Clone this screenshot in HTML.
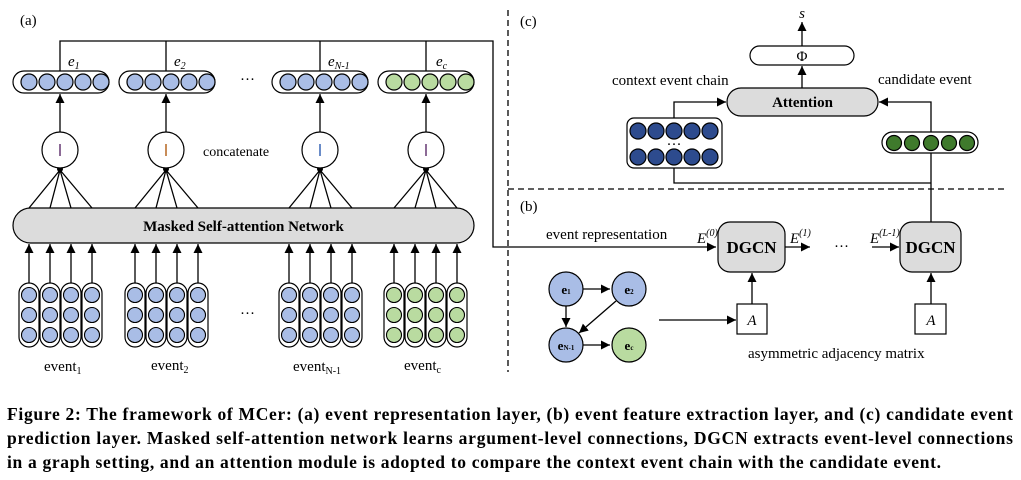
<!DOCTYPE html>
<html><head><meta charset="utf-8"><style>
body{margin:0;background:#fff}
svg{display:block}
text{font-family:"Liberation Serif",serif}
</style></head><body>
<svg width="1021" height="480" viewBox="0 0 1021 480" xmlns="http://www.w3.org/2000/svg">
<defs>
<marker id="a" viewBox="0 0 10 10" refX="10" refY="5" markerWidth="7" markerHeight="7" orient="auto-start-reverse"><path d="M0,0L10,5L0,10z" fill="#000"/></marker>
</defs>
<g stroke="#000" stroke-width="1.3" fill="none">
<polyline points="60,71 60,41 493,41 493,247 716,247" marker-end="url(#a)"/>
<line x1="166" y1="41" x2="166" y2="71"/><line x1="320" y1="41" x2="320" y2="71"/><line x1="426" y1="41" x2="426" y2="71"/>
<line x1="60" y1="132" x2="60" y2="94" marker-end="url(#a)"/>
<line x1="166" y1="132" x2="166" y2="94" marker-end="url(#a)"/>
<line x1="320" y1="132" x2="320" y2="94" marker-end="url(#a)"/>
<line x1="426" y1="132" x2="426" y2="94" marker-end="url(#a)"/>
<path d="M29,208L60,170M50,208L60,170M71,208L60,170M92,208L60,170"/>
<path d="M135,208L166,170M156,208L166,170M177,208L166,170M198,208L166,170"/>
<path d="M289,208L320,170M310,208L320,170M331,208L320,170M352,208L320,170"/>
<path d="M394,208L426,170M415,208L426,170M436,208L426,170M457,208L426,170"/>
<g marker-end="url(#a)">
<line x1="29" y1="283" x2="29" y2="244"/><line x1="50" y1="283" x2="50" y2="244"/><line x1="71" y1="283" x2="71" y2="244"/><line x1="92" y1="283" x2="92" y2="244"/>
<line x1="135" y1="283" x2="135" y2="244"/><line x1="156" y1="283" x2="156" y2="244"/><line x1="177" y1="283" x2="177" y2="244"/><line x1="198" y1="283" x2="198" y2="244"/>
<line x1="289" y1="283" x2="289" y2="244"/><line x1="310" y1="283" x2="310" y2="244"/><line x1="331" y1="283" x2="331" y2="244"/><line x1="352" y1="283" x2="352" y2="244"/>
<line x1="394" y1="283" x2="394" y2="244"/><line x1="415" y1="283" x2="415" y2="244"/><line x1="436" y1="283" x2="436" y2="244"/><line x1="457" y1="283" x2="457" y2="244"/>
</g>
</g>
<g fill="#000"><circle cx="60" cy="169" r="3"/><circle cx="166" cy="169" r="3"/><circle cx="320" cy="169" r="3"/><circle cx="426" cy="169" r="3"/></g>
<g stroke="#000" stroke-width="1.2">
<rect x="13" y="71" width="96" height="22" rx="11" fill="#fff"/>
<rect x="119" y="71" width="96" height="22" rx="11" fill="#fff"/>
<rect x="272" y="71" width="96" height="22" rx="11" fill="#fff"/>
<rect x="378" y="71" width="96" height="22" rx="11" fill="#fff"/>
<g fill="#a9bde6">
<circle cx="29" cy="82" r="8"/><circle cx="47" cy="82" r="8"/><circle cx="65" cy="82" r="8"/><circle cx="83" cy="82" r="8"/><circle cx="101" cy="82" r="8"/>
<circle cx="135" cy="82" r="8"/><circle cx="153" cy="82" r="8"/><circle cx="171" cy="82" r="8"/><circle cx="189" cy="82" r="8"/><circle cx="207" cy="82" r="8"/>
<circle cx="288" cy="82" r="8"/><circle cx="306" cy="82" r="8"/><circle cx="324" cy="82" r="8"/><circle cx="342" cy="82" r="8"/><circle cx="360" cy="82" r="8"/>
</g>
<g fill="#b9dba0">
<circle cx="394" cy="82" r="8"/><circle cx="412" cy="82" r="8"/><circle cx="430" cy="82" r="8"/><circle cx="448" cy="82" r="8"/><circle cx="466" cy="82" r="8"/>
</g>
<g fill="#fff"><circle cx="60" cy="150" r="18"/><circle cx="166" cy="150" r="18"/><circle cx="320" cy="150" r="18"/><circle cx="426" cy="150" r="18"/></g>
<rect x="13" y="208" width="461" height="35" rx="17.5" fill="#dcdcdc"/>
<g fill="#fff">
<rect x="19" y="283" width="20" height="64" rx="10"/><rect x="40" y="283" width="20" height="64" rx="10"/><rect x="61" y="283" width="20" height="64" rx="10"/><rect x="82" y="283" width="20" height="64" rx="10"/>
<rect x="125" y="283" width="20" height="64" rx="10"/><rect x="146" y="283" width="20" height="64" rx="10"/><rect x="167" y="283" width="20" height="64" rx="10"/><rect x="188" y="283" width="20" height="64" rx="10"/>
<rect x="279" y="283" width="20" height="64" rx="10"/><rect x="300" y="283" width="20" height="64" rx="10"/><rect x="321" y="283" width="20" height="64" rx="10"/><rect x="342" y="283" width="20" height="64" rx="10"/>
<rect x="384" y="283" width="20" height="64" rx="10"/><rect x="405" y="283" width="20" height="64" rx="10"/><rect x="426" y="283" width="20" height="64" rx="10"/><rect x="447" y="283" width="20" height="64" rx="10"/>
</g>
</g>
<g stroke="#000" stroke-width="1.1" fill="#a9bde6">
<g id="c1"><circle cx="29" cy="295" r="7.5"/><circle cx="29" cy="315" r="7.5"/><circle cx="29" cy="335" r="7.5"/></g>
<use href="#c1" x="21"/><use href="#c1" x="42"/><use href="#c1" x="63"/>
<use href="#c1" x="106"/><use href="#c1" x="127"/><use href="#c1" x="148"/><use href="#c1" x="169"/>
<use href="#c1" x="260"/><use href="#c1" x="281"/><use href="#c1" x="302"/><use href="#c1" x="323"/>
</g>
<g stroke="#000" stroke-width="1.1" fill="#b9dba0">
<g id="c2"><circle cx="394" cy="295" r="7.5"/><circle cx="394" cy="315" r="7.5"/><circle cx="394" cy="335" r="7.5"/></g>
<use href="#c2" x="21"/><use href="#c2" x="42"/><use href="#c2" x="63"/>
</g>
<g stroke-width="1.4"><line x1="60" y1="144" x2="60" y2="156" stroke="#5a2a6a"/><line x1="166" y1="144" x2="166" y2="156" stroke="#b05a10"/><line x1="320" y1="144" x2="320" y2="156" stroke="#2a5ab0"/><line x1="426" y1="144" x2="426" y2="156" stroke="#5a2a6a"/></g>
<g font-size="15">
<text x="20" y="25">(a)</text>
<text x="68" y="66" font-style="italic">e<tspan font-size="10" dy="3">1</tspan></text>
<text x="174" y="66" font-style="italic">e<tspan font-size="10" dy="3">2</tspan></text>
<text x="328" y="66" font-style="italic">e<tspan font-size="10" dy="3">N-1</tspan></text>
<text x="436" y="66" font-style="italic">e<tspan font-size="10" dy="3">c</tspan></text>
<text x="240" y="84">···</text>
<text x="240" y="318">···</text>
<text x="203" y="156" font-family="Liberation Sans,sans-serif" font-size="14">concatenate</text>
<text x="243.5" y="231" text-anchor="middle" font-weight="bold">Masked Self-attention Network</text>
<text x="44" y="371">event<tspan font-size="10" dy="3">1</tspan></text>
<text x="151" y="370">event<tspan font-size="10" dy="3">2</tspan></text>
<text x="293" y="371">event<tspan font-size="10" dy="3">N-1</tspan></text>
<text x="404" y="370">event<tspan font-size="10" dy="3">c</tspan></text>
</g>
<g stroke="#000" stroke-width="1.3" fill="none">
<line x1="508" y1="10" x2="508" y2="372" stroke-dasharray="6,4"/>
<line x1="508" y1="189" x2="1005" y2="189" stroke-dasharray="6,4"/>
<line x1="802" y1="46" x2="802" y2="22" marker-end="url(#a)"/>
<line x1="802" y1="88" x2="802" y2="66" marker-end="url(#a)"/>
<polyline points="674,118 674,102 726,102" marker-end="url(#a)"/>
<polyline points="931,132 931,102 879,102" marker-end="url(#a)"/>
<polyline points="674,168 674,183 931,183"/>
<line x1="931" y1="153" x2="931" y2="222"/>
<line x1="785" y1="247" x2="810" y2="247" marker-end="url(#a)"/>
<line x1="872" y1="247" x2="899" y2="247" marker-end="url(#a)"/>
<line x1="752" y1="304" x2="752" y2="273" marker-end="url(#a)"/>
<line x1="931" y1="304" x2="931" y2="273" marker-end="url(#a)"/>
<line x1="659" y1="320" x2="736" y2="320" marker-end="url(#a)"/>
<line x1="583" y1="289" x2="610" y2="289" marker-end="url(#a)"/>
<line x1="566" y1="306" x2="566" y2="327" marker-end="url(#a)"/>
<line x1="616" y1="301" x2="579" y2="333" marker-end="url(#a)"/>
<line x1="583" y1="345" x2="610" y2="345" marker-end="url(#a)"/>
</g>
<g stroke="#000" stroke-width="1.2">
<rect x="750" y="46" width="104" height="19" rx="9.5" fill="#fff"/>
<rect x="727" y="88" width="151" height="28" rx="14" fill="#dcdcdc"/>
<rect x="627" y="118" width="95" height="50" rx="7" fill="#fff"/>
<rect x="882" y="132" width="96" height="21" rx="10.5" fill="#fff"/>
<rect x="718" y="222" width="67" height="50" rx="12" fill="#dcdcdc"/>
<rect x="900" y="222" width="61" height="50" rx="12" fill="#dcdcdc"/>
<rect x="737" y="304" width="30" height="30" fill="#fff"/>
<rect x="915" y="304" width="31" height="30" fill="#fff"/>
<g fill="#2d4b8e"><circle cx="638" cy="131" r="8"/><circle cx="656" cy="131" r="8"/><circle cx="674" cy="131" r="8"/><circle cx="692" cy="131" r="8"/><circle cx="710" cy="131" r="8"/>
<circle cx="638" cy="157" r="8"/><circle cx="656" cy="157" r="8"/><circle cx="674" cy="157" r="8"/><circle cx="692" cy="157" r="8"/><circle cx="710" cy="157" r="8"/></g>
<g fill="#3f7a2c"><circle cx="894" cy="143" r="7.5"/><circle cx="912" cy="143" r="7.5"/><circle cx="931" cy="143" r="7.5"/><circle cx="949" cy="143" r="7.5"/><circle cx="967" cy="143" r="7.5"/></g>
<g fill="#a9bde6"><circle cx="566" cy="289" r="17"/><circle cx="629" cy="289" r="17"/><circle cx="566" cy="345" r="17"/></g>
<circle cx="629" cy="345" r="17" fill="#b9dba0"/>
</g>
<g font-size="15">
<text x="520" y="26">(c)</text>
<text x="520" y="211">(b)</text>
<text x="802" y="18" text-anchor="middle" font-style="italic">s</text>
<text x="802" y="61" text-anchor="middle">Φ</text>
<text x="802.5" y="107" text-anchor="middle" font-weight="bold">Attention</text>
<text x="612" y="85">context event chain</text>
<text x="878" y="84">candidate event</text>
<text x="674" y="149" text-anchor="middle">···</text>
<text x="546" y="239">event representation</text>
<text x="697" y="243" font-style="italic">E<tspan font-size="10" dy="-7">(0)</tspan></text>
<text x="790" y="243" font-style="italic">E<tspan font-size="10" dy="-7">(1)</tspan></text>
<text x="870" y="243" font-style="italic">E<tspan font-size="10" dy="-7">(L-1)</tspan></text>
<text x="834" y="251">···</text>
<text x="751.5" y="253" text-anchor="middle" font-weight="bold" font-size="17">DGCN</text>
<text x="930.5" y="253" text-anchor="middle" font-weight="bold" font-size="17">DGCN</text>
<text x="752" y="325" text-anchor="middle" font-style="italic">A</text>
<text x="931" y="325" text-anchor="middle" font-style="italic">A</text>
<text x="748" y="358">asymmetric adjacency matrix</text>
<g font-weight="bold" font-size="13" text-anchor="middle"><text x="566" y="294">e<tspan font-size="7">1</tspan></text><text x="629" y="294">e<tspan font-size="7">2</tspan></text><text x="566" y="350">e<tspan font-size="7">N-1</tspan></text><text x="629" y="350">e<tspan font-size="7">c</tspan></text></g>
</g>
<g font-size="17.5" font-weight="bold">
<text x="7" y="420" textLength="1006" lengthAdjust="spacing">Figure 2: The framework of MCer: (a) event representation layer, (b) event feature extraction layer, and (c) candidate event</text>
<text x="7" y="444" textLength="1006" lengthAdjust="spacing">prediction layer. Masked self-attention network learns argument-level connections, DGCN extracts event-level connections</text>
<text x="7" y="468" textLength="934" lengthAdjust="spacing">in a graph setting, and an attention module is adopted to compare the context event chain with the candidate event.</text>
</g>
</svg>
</body></html>
